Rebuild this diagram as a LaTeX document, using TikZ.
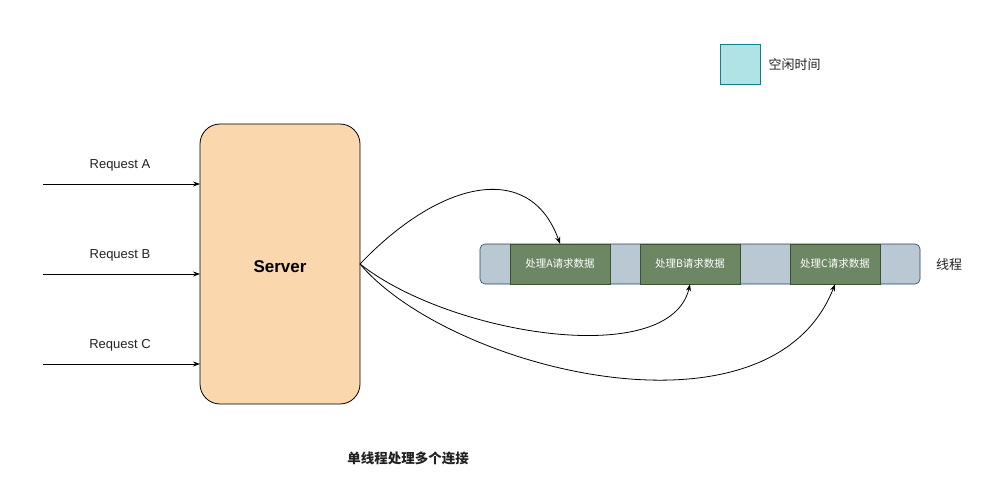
\documentclass[tikz,border=0pt]{standalone}
\usepackage{fontspec}
\setmainfont{Liberation Sans}
\newfontfamily\cjk{Noto Sans CJK SC}
\usetikzlibrary{arrows.meta}
\definecolor{serverfill}{HTML}{FAD7AC}
\definecolor{barfill}{HTML}{BAC8D3}
\definecolor{barline}{HTML}{23445D}
\definecolor{segfill}{HTML}{6D8764}
\definecolor{segline}{HTML}{3A5431}
\definecolor{idlefill}{HTML}{B0E3E6}
\definecolor{idleline}{HTML}{0E8088}
\definecolor{txt}{HTML}{222222}
\begin{document}
\begin{tikzpicture}[x=1pt,y=-1pt,
  arr/.style={-{Stealth[length=7pt,width=5pt]},line width=0.8pt,black},
  seg/.style={draw=segline,fill=segfill,minimum width=100pt,minimum height=40pt,inner sep=0pt,text=white,font=\cjk\fontsize{10.5}{12}\selectfont},
  lbl/.style={font=\fontsize{13}{15}\selectfont,text=txt}]
\useasboundingbox (0,0) rectangle (990,500);
\node[draw=black,fill=serverfill,rounded corners=20pt,minimum width=160pt,minimum height=280pt,inner sep=0pt,line width=0.8pt] (server) at (280,264) {};
\node[font=\bfseries\fontsize{17}{19}\selectfont] (stext) at (280,267) {Server};
\coordinate (ra) at (43,184);
\coordinate (rb) at (43,274);
\coordinate (rc) at (43,364);
\coordinate (sa) at (200,184);
\coordinate (sb) at (200,274);
\coordinate (sc) at (200,364);
\draw[arr] (ra) -- (sa);
\draw[arr] (rb) -- (sb);
\draw[arr] (rc) -- (sc);
\node[lbl] (la) at (120,165) {Request A};
\node[lbl] (lb) at (120,255) {Request B};
\node[lbl] (lc) at (120,345) {Request C};
\node[draw=barline,fill=barfill,rounded corners=5pt,minimum width=440pt,minimum height=40pt,inner sep=0pt,line width=0.6pt] (bar) at (700,264) {};
\node[seg] (segA) at (560,264) {处理A请求数据};
\node[seg] (segB) at (690,264) {处理B请求数据};
\node[seg,minimum width=90pt] (segC) at (835,264) {处理C请求数据};
\node[font=\cjk\fontsize{13}{15}\selectfont,text=txt] (thr) at (949,265) {线程};
\node[draw=idleline,fill=idlefill,minimum width=40pt,minimum height=40pt,inner sep=0pt,line width=0.8pt] (idle) at (740,64) {};
\node[font=\cjk\fontsize{13}{15}\selectfont,text=txt,anchor=west] (idlet) at (765,65) {空闲时间};
\node[font=\cjk\bfseries\fontsize{13.5}{15}\selectfont,text=txt] (cap) at (408,458) {单线程处理多个连接};
\coordinate (so) at (360,264);
\draw[arr] (so) .. controls (440,180) and (530,160) .. (segA.north);
\draw[arr] (so) .. controls (450,335) and (670,370) .. (segB.south);
\draw[arr] (so) .. controls (450,370) and (770,450) .. (segC.south);
\end{tikzpicture}
\end{document}
